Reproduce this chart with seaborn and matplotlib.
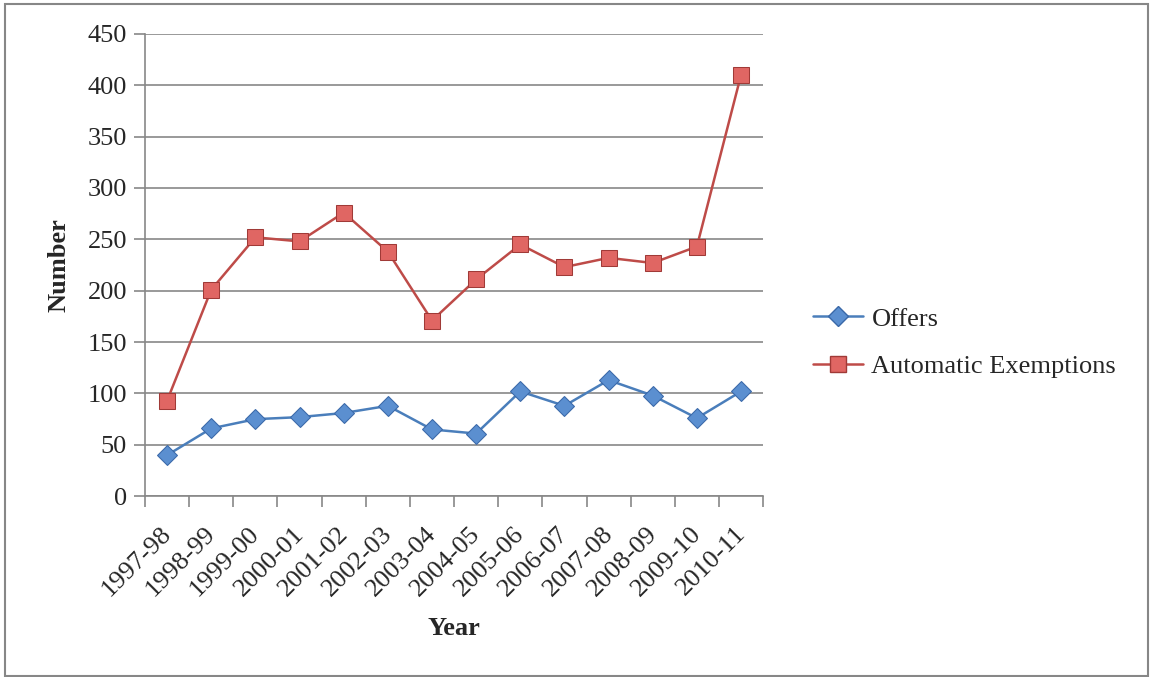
import seaborn as sns
import matplotlib.pyplot as plt
import matplotlib.transforms as mtransforms
import pandas as pd
from matplotlib.patches import Rectangle

years = ['1997-98', '1998-99', '1999-00', '2000-01', '2001-02', '2002-03', '2003-04',
         '2004-05', '2005-06', '2006-07', '2007-08', '2008-09', '2009-10', '2010-11']
offers = [40, 66, 75, 77, 81, 88, 65, 61, 102, 88, 113, 98, 76, 102]
exemptions = [93, 201, 252, 248, 276, 238, 171, 211, 245, 223, 232, 227, 243, 410]

df = pd.DataFrame({
    'Year': years * 2,
    'Number': offers + exemptions,
    'Series': ['Offers'] * len(years) + ['Automatic Exemptions'] * len(years),
})

sns.set_style("white")
plt.rcParams['font.family'] = ['Liberation Serif', 'DejaVu Serif']

fig = plt.figure(figsize=(11.51, 6.77), dpi=100)
ax = fig.add_axes([0.126, 0.267, 0.537, 0.683])

sns.lineplot(data=df, x='Year', y='Number', hue='Series', style='Series',
             markers={'Offers': 'D', 'Automatic Exemptions': 's'}, dashes=False,
             palette={'Offers': '#4A7EBB', 'Automatic Exemptions': '#BE4B48'},
             linewidth=1.8, markersize=11, ax=ax, legend=False)

# marker colours
ax.lines[0].set_markerfacecolor('#5B8FD0')
ax.lines[0].set_markeredgecolor('#3A68A8')
ax.lines[0].set_markersize(10)
ax.lines[1].set_markerfacecolor('#E06663')
ax.lines[1].set_markeredgecolor('#A03A37')

ax.set_xlim(-0.5, len(years) - 0.5)
ax.set_ylim(0, 450)
ax.set_yticks(range(0, 451, 50))
ax.yaxis.grid(True, color='#878787', linewidth=1.2)
ax.set_axisbelow(True)

for s in ['top', 'right']:
    ax.spines[s].set_visible(False)
for s in ['left', 'bottom']:
    ax.spines[s].set_color('#878787')
    ax.spines[s].set_linewidth(1.2)

ax.set_xticks(range(len(years)))
ax.set_xticklabels(years, rotation=45, ha='right', rotation_mode='anchor', fontsize=19)
ax.set_xticks([i - 0.5 for i in range(len(years) + 1)], minor=True)
ax.tick_params(axis='x', which='major', length=0, pad=19)
ax.tick_params(axis='x', which='minor', length=8, color='#878787', width=1.2, direction='out')
ax.tick_params(axis='y', length=8, color='#878787', width=1.2, direction='out', labelsize=19, pad=5)
ax.tick_params(axis='both', bottom=True, left=True)
ax.tick_params(axis='x', which='minor', bottom=True)

shift = mtransforms.ScaledTranslation(-7 / 100, 0, fig.dpi_scale_trans)
for lbl in ax.get_xticklabels():
    lbl.set_transform(lbl.get_transform() + shift)

ax.set_xlabel('Year', fontsize=19, fontweight='bold', labelpad=12)
ax.set_ylabel('Number', fontsize=19, fontweight='bold', labelpad=12)

handles = [
    plt.Line2D([], [], color='#4A7EBB', lw=1.8, marker='D', markersize=10,
               markerfacecolor='#5B8FD0', markeredgecolor='#3A68A8'),
    plt.Line2D([], [], color='#BE4B48', lw=1.8, marker='s', markersize=11,
               markerfacecolor='#E06663', markeredgecolor='#A03A37'),
]
fig.legend(handles, ['Offers', 'Automatic Exemptions'], loc='center left',
           bbox_to_anchor=(0.686, 0.494), frameon=False, fontsize=19,
           handlelength=1.9, labelspacing=0.9, handletextpad=0.3)

fig.patches.append(Rectangle((0.004, 0.002), 0.993, 0.992, transform=fig.transFigure,
                             fill=False, edgecolor='#878787', linewidth=1.5))

fig.savefig('out.png', dpi=100)
